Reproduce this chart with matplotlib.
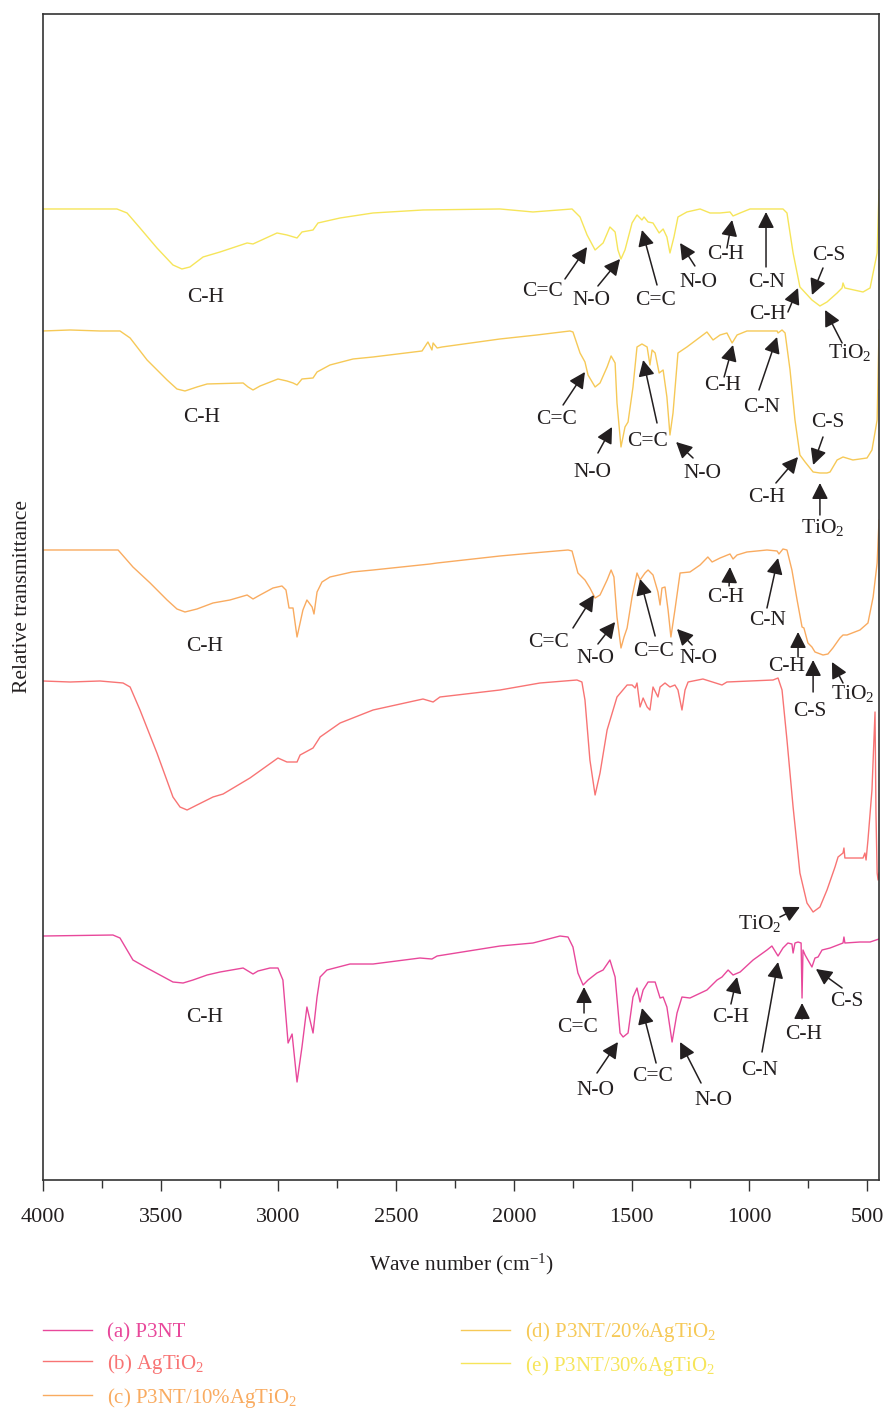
import matplotlib
matplotlib.use("Agg")
import matplotlib.pyplot as plt
from matplotlib.ticker import MultipleLocator, NullLocator

plt.rcParams["font.family"] = ["Liberation Serif", "DejaVu Serif"]
plt.rcParams["mathtext.fontset"] = "custom"
plt.rcParams["mathtext.rm"] = "Liberation Serif"
plt.rcParams["mathtext.it"] = "Liberation Serif:italic"

# ---------------- FTIR spectra (wavenumber in cm^-1, stacked relative transmittance) ----------------
wn_a = [4000, 3703, 3673, 3618, 3558, 3448, 3405, 3363, 3303, 3248, 3150, 3108, 3087, 3036, 3002,
        2981, 2959, 2942, 2921, 2900, 2879, 2866, 2853, 2836, 2823, 2794, 2696, 2598, 2399, 2348,
        2326, 2059, 1919, 1804, 1770, 1749, 1728, 1706, 1685, 1647, 1621, 1592, 1570, 1549, 1536,
        1515, 1494, 1477, 1464, 1451, 1430, 1400, 1379, 1366, 1350, 1328, 1307, 1286, 1252, 1180,
        1137, 1116, 1090, 1069, 1039, 984, 925, 904, 878, 857, 836, 819, 814, 806, 793, 780, 776,
        772, 763, 751, 734, 721, 708, 691, 657, 602, 598, 594, 530, 487, 449]
t_a = [24.4, 24.5, 24.2, 22.0, 21.2, 19.8, 19.7, 20.0, 20.5, 20.8, 21.2, 20.6, 20.9, 21.2, 21.2,
       20.0, 13.7, 14.6, 9.8, 13.3, 17.3, 16.0, 14.7, 18.3, 20.3, 21.0, 21.6, 21.6, 22.2, 22.1,
       22.4, 23.4, 23.7, 24.4, 24.3, 23.3, 20.7, 19.5, 20.0, 20.7, 21.0, 22.0, 20.3, 14.7, 14.3,
       14.7, 18.3, 19.2, 17.8, 19.0, 19.8, 19.8, 18.2, 18.3, 17.3, 13.8, 16.7, 18.3, 18.2, 19.0,
       20.0, 20.3, 21.0, 20.5, 20.8, 22.0, 23.0, 23.4, 22.4, 23.2, 23.7, 23.6, 22.7, 23.7, 23.8, 23.7, 18.2,
       23.0, 22.5, 22.0, 21.3, 22.2, 22.3, 23.0, 23.2, 23.7, 24.3, 23.7, 23.8, 23.8, 24.1]

wn_b = [4000, 3885, 3758, 3660, 3630, 3588, 3516, 3448, 3418, 3388, 3346, 3278, 3235, 3121, 3002,
        2964, 2921, 2908, 2853, 2823, 2738, 2598, 2386, 2343, 2314, 2059, 1889, 1732, 1711, 1698,
        1677, 1655, 1634, 1604, 1562, 1519, 1498, 1485, 1477, 1464, 1451, 1434, 1422, 1409, 1388,
        1379, 1358, 1337, 1316, 1303, 1286, 1273, 1260, 1197, 1116, 1095, 899, 878, 861, 840, 814,
        785, 755, 729, 700, 670, 636, 623, 602, 598, 594, 517, 509, 504, 496, 479, 466, 462, 457,
        453, 449]
t_b = [49.9, 49.8, 49.9, 49.7, 49.3, 47.0, 42.7, 38.3, 37.3, 37.0, 37.5, 38.3, 38.6, 40.2, 42.2,
       41.8, 41.8, 42.5, 43.2, 44.3, 45.7, 47.0, 48.1, 47.8, 48.3, 49.0, 49.7, 50.0, 49.8, 48.0,
       42.0, 38.5, 40.7, 45.0, 48.3, 49.5, 49.5, 49.2, 49.7, 47.3, 48.2, 47.3, 47.0, 49.3, 48.3,
       49.3, 49.7, 49.3, 49.5, 49.0, 47.0, 49.0, 49.8, 50.1, 49.5, 49.8, 50.0, 50.2, 49.0, 44.0, 37.3,
       30.7, 27.7, 26.8, 27.3, 29.0, 31.3, 32.3, 32.7, 33.2, 32.2, 32.2, 32.7, 32.0, 34.0, 39.0, 46.8, 36.7, 30.7,
       30.0, 30.7]

wn_c = [4000, 3681, 3618, 3545, 3473, 3431, 3397, 3346, 3278, 3206, 3133, 3108, 3078, 3023, 2985,
        2968, 2955, 2938, 2921, 2896, 2879, 2857, 2849, 2836, 2815, 2781, 2687, 2598, 2356, 2326,
        2059, 1919, 1770, 1753, 1728, 1698, 1677, 1655, 1634, 1604, 1587, 1575, 1562, 1545, 1532,
        1519, 1498, 1477, 1464, 1443, 1430, 1409, 1388, 1379, 1371, 1358, 1345, 1333, 1316, 1294,
        1252, 1209, 1176, 1158, 1124, 1103, 1082, 1069, 1052, 1010, 925, 882, 874, 857, 840, 819,
        797, 776, 768, 751, 734, 721, 687, 666, 645, 615, 602, 585, 530, 496, 474, 457, 449]
t_c = [63.0, 63.0, 61.3, 59.7, 58.0, 57.1, 56.8, 57.1, 57.7, 58.0, 58.5, 58.1, 58.5, 59.2, 59.4,
       59.0, 57.2, 57.2, 54.3, 57.0, 58.0, 57.3, 56.6, 58.8, 59.8, 60.3, 60.8, 61.0, 61.6, 61.7,
       62.4, 62.7, 63.0, 62.9, 60.7, 60.0, 59.2, 58.2, 58.5, 60.0, 61.0, 60.3, 56.3, 53.2, 54.3,
       55.2, 58.3, 60.7, 60.0, 60.7, 61.0, 60.5, 58.8, 57.5, 59.2, 59.3, 57.0, 54.3, 57.0, 60.7,
       60.8, 61.5, 62.3, 61.8, 62.2, 62.4, 62.6, 62.1, 62.5, 62.8, 63.0, 62.9, 62.6, 63.1, 63.0, 61.0,
       58.0, 55.3, 55.2, 53.7, 53.3, 52.8, 52.5, 52.6, 53.2, 54.2, 54.5, 54.5, 55.0, 55.7, 58.3, 61.7, 66.0]

wn_d = [4000, 3885, 3758, 3673, 3630, 3558, 3473, 3431, 3397, 3346, 3303, 3150, 3129, 3108, 3078,
        3002, 2964, 2938, 2921, 2900, 2853, 2836, 2781, 2683, 2598, 2390, 2365, 2348, 2343, 2326,
        2305, 2059, 1902, 1762, 1749, 1719, 1698, 1685, 1655, 1634, 1604, 1587, 1570, 1562, 1545,
        1528, 1515, 1494, 1477, 1456, 1434, 1422, 1413, 1400, 1383, 1366, 1350, 1337, 1324, 1303,
        1265, 1180, 1154, 1124, 1095, 1073, 1052, 1010, 882, 878, 861, 848, 827, 806, 785, 763, 729,
        700, 670, 657, 627, 602, 560, 500, 479, 457, 449]
t_d = [84.9, 85.0, 84.9, 84.9, 84.2, 82.0, 80.0, 79.1, 78.9, 79.3, 79.6, 79.7, 79.3, 79.0, 79.4,
       80.1, 79.9, 79.7, 79.5, 80.1, 80.2, 80.8, 81.5, 82.1, 82.3, 82.9, 83.8, 83.0, 83.7, 83.2,
       83.3, 84.1, 84.5, 84.9, 84.8, 82.7, 81.8, 80.5, 79.3, 79.7, 81.3, 82.4, 81.7, 77.7, 73.3,
       75.3, 75.8, 79.3, 83.3, 83.6, 83.3, 81.5, 83.0, 82.7, 80.7, 81.0, 78.3, 74.5, 76.7, 82.7,
       83.3, 84.8, 84.0, 84.5, 84.7, 83.7, 84.5, 84.9, 84.9, 84.7, 85.0, 84.7, 81.0, 76.0, 72.5, 71.8, 70.8,
       70.7, 70.7, 70.8, 72.0, 72.3, 72.0, 72.2, 73.0, 76.0, 85.0]

wn_e = [4000, 3686, 3643, 3588, 3516, 3448, 3410, 3376, 3320, 3248, 3133, 3108, 3006, 2964, 2921,
        2900, 2853, 2832, 2738, 2598, 2386, 2059, 1919, 1753, 1719, 1689, 1655, 1621, 1592, 1570,
        1558, 1545, 1528, 1498, 1477, 1456, 1447, 1430, 1409, 1383, 1366, 1350, 1337, 1320, 1303,
        1265, 1209, 1167, 1124, 1082, 1069, 1039, 997, 857, 840, 814, 785, 734, 700, 670, 627, 606,
        602, 594, 517, 487, 457, 449]
t_e = [97.1, 97.1, 96.7, 95.2, 93.2, 91.5, 91.1, 91.3, 92.3, 92.8, 93.7, 93.6, 94.7, 94.5, 94.2,
       94.8, 95.0, 95.7, 96.2, 96.7, 97.0, 97.1, 96.8, 97.1, 96.3, 94.5, 93.0, 93.7, 95.3, 94.8,
       93.0, 92.1, 93.0, 95.7, 96.5, 96.0, 96.3, 95.8, 95.7, 94.7, 95.1, 94.3, 92.7, 94.3, 96.3,
       96.8, 97.1, 96.7, 96.7, 96.8, 96.4, 96.7, 97.1, 97.1, 96.7, 92.7, 89.3, 88.0, 87.4, 87.8, 88.7, 89.2,
       89.7, 89.2, 88.8, 89.2, 92.7, 99.0]

series_labels = ["(a) P3NT", "(b) AgTiO$_\\mathrm{2}$", "(c) P3NT/10%AgTiO$_\\mathrm{2}$",
                 "(d) P3NT/20%AgTiO$_\\mathrm{2}$", "(e) P3NT/30%AgTiO$_\\mathrm{2}$"]
series_colors = ["#E8489B", "#F87474", "#F9AB60", "#F6C957", "#F6E55A"]

TIO2 = "TiO$_\\mathrm{2}$"
# band assignments: (label, text x, text y, arrow tail x, tail y, arrow head x, head y)
band_notes = [
    # (e)
    ("C-H", 3308, 88.2, None, None, None, None),
    ("C=C", 1880, 88.8, 1783, 90.1, 1689, 93.3),
    ("N-O", 1672, 87.9, 1643, 89.4, 1549, 92.1),
    ("C=C", 1400, 87.9, 1392, 89.5, 1456, 95.0),
    ("N-O", 1218, 89.7, 1231, 91.4, 1294, 93.7),
    ("C-H", 1099, 92.5, 1095, 93.2, 1073, 96.0),
    ("C-N", 925, 89.7, 929, 91.3, 929, 96.8),
    ("C-H", 921, 86.5, 836, 86.8, 793, 89.2),
    ("C-S", 661, 92.4, 687, 91.2, 734, 88.5),
    (TIO2, 572, 82.7, 606, 83.7, 678, 87.0),
    # (d)
    ("C-H", 3325, 76.2, None, None, None, None),
    ("C=C", 1817, 76.0, 1791, 77.5, 1698, 80.8),
    ("N-O", 1668, 70.7, 1643, 72.7, 1583, 75.3),
    ("C=C", 1434, 73.8, 1392, 75.7, 1451, 82.0),
    ("N-O", 1201, 70.6, 1239, 72.2, 1311, 73.8),
    ("C-H", 1112, 79.4, 1107, 80.3, 1069, 83.5),
    ("C-N", 946, 77.2, 959, 79.0, 882, 84.3),
    ("C-H", 925, 68.2, 887, 69.7, 793, 72.3),
    ("C-S", 666, 75.7, 687, 74.3, 729, 71.5),
    (TIO2, 687, 65.2, 700, 66.5, 700, 69.7),
    # (c)
    ("C-H", 3312, 53.3, None, None, None, None),
    ("C=C", 1851, 53.7, 1749, 55.2, 1660, 58.5),
    ("N-O", 1655, 52.1, 1643, 53.6, 1570, 55.8),
    ("C=C", 1405, 52.8, 1400, 54.4, 1464, 60.1),
    ("N-O", 1214, 52.1, 1243, 53.5, 1307, 55.1),
    ("C-H", 1099, 58.2, 1086, 59.4, 1082, 61.3),
    ("C-N", 921, 55.9, 925, 57.2, 878, 62.2),
    ("C-H", 840, 51.3, 793, 52.3, 793, 54.8),
    ("C-S", 742, 46.8, 729, 48.8, 729, 52.0),
    (TIO2, 560, 48.6, 602, 49.7, 649, 51.8),
    # (b)
    (TIO2, 955, 25.7, 870, 26.3, 785, 27.3),
    # (a)
    ("C-H", 3312, 16.3, None, None, None, None),
    ("C=C", 1728, 15.3, 1702, 16.7, 1702, 19.3),
    ("N-O", 1655, 9.0, 1647, 10.7, 1558, 13.8),
    ("C=C", 1413, 10.4, 1396, 11.7, 1456, 17.2),
    ("N-O", 1154, 8.0, 1205, 9.7, 1294, 13.8),
    ("C-H", 1078, 16.3, 1078, 17.6, 1052, 20.3),
    ("C-N", 955, 11.0, 946, 12.8, 878, 21.8),
    ("C-H", 768, 14.6, 776, 16.1, 776, 17.7),
    ("C-S", 585, 17.9, 606, 19.2, 717, 21.1),
]

x_ticks = [4000, 3500, 3000, 2500, 2000, 1500, 1000, 500]

# ---------------- figure ----------------
fig = plt.figure(figsize=(8.83, 14.11), dpi=100)
ax = fig.add_axes([0.0487, 0.1637, 0.9468, 0.8264])

spectra = [(wn_a, t_a), (wn_b, t_b), (wn_c, t_c), (wn_d, t_d), (wn_e, t_e)]
for (w, t), lab, col in zip(spectra, series_labels, series_colors):
    ax.plot(w, t, color=col, lw=1.0, label=lab, solid_joinstyle="round")

ink = "#231F20"
for lab, tx, ty, sx, sy, hx, hy in band_notes:
    ax.text(tx, ty, lab, ha="center", va="center", fontsize=15.5, color=ink)
    if sx is not None:
        ax.annotate("", xy=(hx, hy), xytext=(sx, sy),
                    arrowprops=dict(arrowstyle="-|>,head_length=0.75,head_width=0.38",
                                    mutation_scale=13, color=ink, lw=1.1,
                                    shrinkA=0, shrinkB=0))

ax.set_xlim(4000, 449)
ax.set_ylim(0, 116.6)
ax.set_xticks(x_ticks)
ax.xaxis.set_minor_locator(MultipleLocator(250))
ax.yaxis.set_major_locator(NullLocator())
ax.tick_params(axis="x", which="major", direction="out", length=8, width=1.0,
               labelsize=16, pad=12, colors="#333333", labelcolor=ink)
ax.tick_params(axis="x", which="minor", direction="out", length=6, width=1.0, colors="#333333")
for sp in ax.spines.values():
    sp.set_color("#333333")
    sp.set_linewidth(1.2)

ax.set_xlabel("Wave number (cm$^{\\mathrm{-1}}$)", fontsize=15.5, color=ink, labelpad=18)
ax.set_ylabel("Relative transmittance", fontsize=15.5, color=ink, labelpad=8)

leg = fig.legend(loc="upper left", bbox_to_anchor=(0.0487, 0.0645), ncol=2, frameon=False,
                 fontsize=15, handlelength=2.35, handletextpad=0.7, columnspacing=7.9,
                 labelspacing=0.47, borderpad=0, borderaxespad=0)
for txt, ln in zip(leg.get_texts(), leg.get_lines()):
    txt.set_color(ln.get_color())

fig.savefig("out.png", dpi=100)
